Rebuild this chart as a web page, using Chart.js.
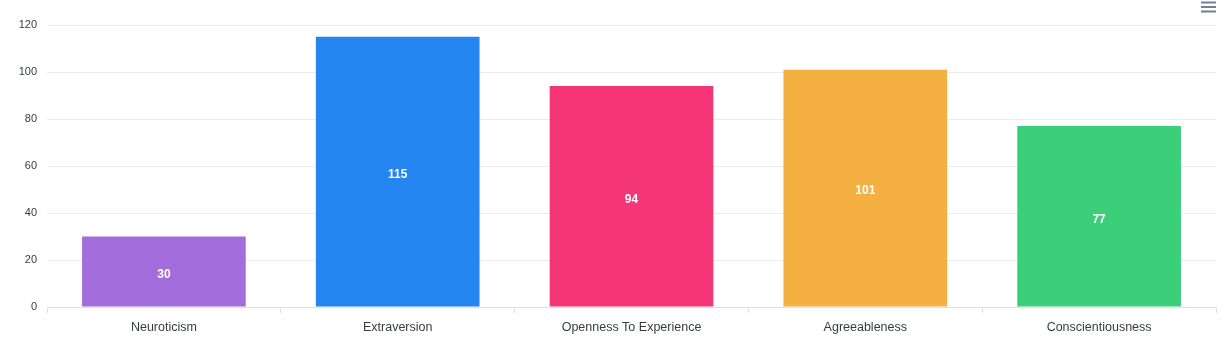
<!DOCTYPE html>
<html>
<head>
<meta charset="utf-8">
<script src="https://cdn.jsdelivr.net/npm/chart.js@4/dist/chart.umd.min.js"></script>
<style>
  html, body { margin: 0; padding: 0; background: #fff; }
  #wrap { position: relative; width: 1232px; height: 362px; }
</style>
</head>
<body>
<div id="wrap"><canvas id="bar" width="1232" height="362"></canvas></div>
<script>
const categories = ["Neuroticism", "Extraversion", "Openness To Experience", "Agreeableness", "Conscientiousness"];
const scores = [30, 115, 94, 101, 77];
const barColors = ["#a36cdb", "#2484f0", "#f43676", "#f5b042", "#3acf78"];
const yTicks = [0, 20, 40, 60, 80, 100, 120];

// white value labels in the middle of each bar
const valueLabels = {
  id: "valueLabels",
  afterDatasetsDraw(chart) {
    const ctx = chart.ctx;
    const meta = chart.getDatasetMeta(0);
    ctx.save();
    ctx.font = "bold 12px 'Liberation Sans', Arial, sans-serif";
    ctx.fillStyle = "#ffffff";
    ctx.textAlign = "center";
    ctx.textBaseline = "middle";
    meta.data.forEach((bar, i) => {
      ctx.fillText(String(scores[i]), bar.x, (bar.y + bar.base) / 2 + 3);
    });
    ctx.restore();
  }
};

// toolbar menu icon in the top right corner
const menuIcon = {
  id: "menuIcon",
  afterDraw(chart) {
    const ctx = chart.ctx;
    ctx.save();
    ctx.strokeStyle = "#6e8192";
    ctx.lineWidth = 2;
    [2.5, 7, 11.5].forEach(y => {
      ctx.beginPath();
      ctx.moveTo(1201, y);
      ctx.lineTo(1216, y);
      ctx.stroke();
    });
    ctx.restore();
  }
};

const ctx = document.getElementById("bar").getContext("2d");
new Chart(ctx, {
  type: "bar",
  data: {
    labels: categories,
    datasets: [{
      data: scores,
      backgroundColor: barColors,
      borderWidth: 0,
      categoryPercentage: 1,
      barPercentage: 0.7
    }]
  },
  options: {
    responsive: false,
    animation: false,
    devicePixelRatio: 1,
    layout: { padding: { top: 25, right: 16, bottom: 0, left: 0 } },
    plugins: { legend: { display: false }, tooltip: { enabled: false } },
    scales: {
      x: {
        grid: {
          offset: true,
          drawOnChartArea: false,
          drawTicks: true,
          tickLength: 6,
          color: "#e0e0e0"
        },
        border: { display: true, color: "#e0e0e0" },
        ticks: {
          color: "#373d3f",
          padding: 7,
          autoSkip: false,
          font: { family: "'Liberation Sans', Arial, sans-serif", size: 12.5 },
          maxRotation: 0
        },
        afterFit(scale) { scale.height = 55; }
      },
      y: {
        min: 0,
        max: 120,
        afterBuildTicks(scale) { scale.ticks = yTicks.map(v => ({ value: v })); },
        grid: { color: "#ececec", drawTicks: false },
        border: { display: false },
        ticks: {
          color: "#373d3f",
          padding: 10,
          font: { family: "'Liberation Sans', Arial, sans-serif", size: 11 }
        },
        afterFit(scale) { scale.width = 47; }
      }
    }
  },
  plugins: [valueLabels, menuIcon]
});
</script>
</body>
</html>
